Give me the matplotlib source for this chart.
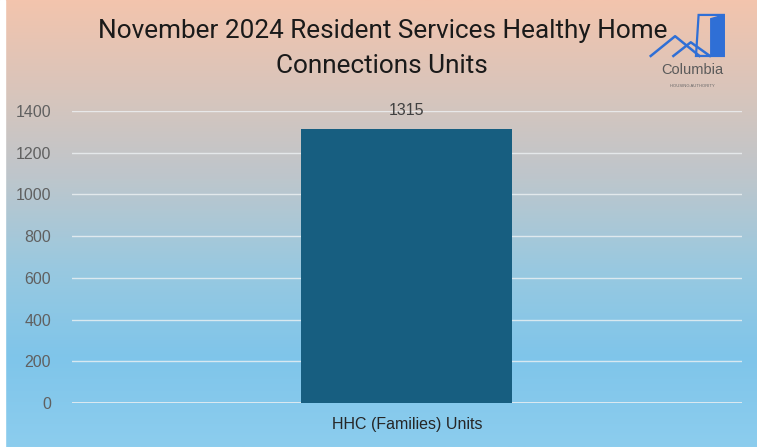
import numpy as np
import matplotlib.pyplot as plt
from matplotlib.colors import LinearSegmentedColormap
from matplotlib.patches import Polygon, Rectangle

categories = ["HHC (Families) Units"]
values = [1315]
yticks = [0, 200, 400, 600, 800, 1000, 1200, 1400]
title = "November 2024 Resident Services Healthy Home\nConnections Units"

plt.rcParams['font.family'] = ['Liberation Sans', 'DejaVu Sans']

fig = plt.figure(figsize=(7.57, 4.47), dpi=100)

# background gradient (top peach -> bottom sky blue)
bg = fig.add_axes([0, 0, 1, 1], zorder=0)
grad = LinearSegmentedColormap.from_list(
    "bg", ["#f3c4ad", "#d9c5bb", "#bdc6cc", "#99c9e0", "#7fc5ea", "#8ccdee"])
bg.imshow(np.linspace(0, 1, 256).reshape(-1, 1), aspect="auto", cmap=grad,
          extent=[0, 1, 0, 1])
bg.add_patch(Rectangle((0, 0), 0.007, 1, color="white"))
bg.set_xlim(0, 1)
bg.set_ylim(0, 1)
bg.axis("off")

ax = fig.add_axes([0.095, 0.098, 0.885, 0.654], zorder=1)
ax.patch.set_alpha(0)
x = np.arange(len(categories))
bars = ax.bar(x, values, width=0.315, color="#175e80", zorder=2)
for b, v in zip(bars, values):
    ax.text(b.get_x() + b.get_width() / 2, v + 50, str(v), ha="center",
            va="bottom", fontsize=11.5, color="#404040", clip_on=False)
ax.set_xlim(-0.5, 0.5)
ax.set_ylim(0, 1400)
ax.set_yticks(yticks)
ax.set_xticks(x)
ax.set_xticklabels(categories, fontsize=11.5, color="#262626")
ax.tick_params(axis="y", labelsize=11.5, labelcolor="#606060", length=0, pad=15)
ax.tick_params(axis="x", length=0, pad=10)
ax.grid(axis="y", color="#eef2f4", linewidth=1, alpha=0.8, zorder=0)
for s in ax.spines.values():
    s.set_visible(False)
ax.axhline(0, color="#e8eef2", linewidth=1.2, zorder=1)

fig.text(0.505, 0.892, title, ha="center", va="center", fontsize=18.8,
         family=['Roboto', 'DejaVu Sans'], color="#1a1a1a", linespacing=1.55)

# small logo drawn with patches
lg = fig.add_axes([0.855, 0.80, 0.115, 0.17], zorder=3)
lg.set_xlim(0, 10)
lg.set_ylim(0, 10)
lg.axis("off")
blue = "#2f6fd6"
lg.add_patch(Polygon([[5.6, 4.4], [5.9, 9.8], [8.8, 9.8], [8.8, 4.4]],
                     closed=True, fc="none", ec=blue, lw=1.6))
lg.add_patch(Polygon([[7.3, 4.4], [7.3, 9.3], [8.8, 9.8], [8.8, 4.4]],
                     closed=True, fc=blue, ec=blue))
lg.plot([0.4, 3.2, 6.0], [4.4, 7.0, 4.4], color=blue, lw=1.8)
lg.plot([3.0, 5.0, 7.2], [4.4, 6.2, 4.4], color=blue, lw=1.8)
lg.text(5.2, 2.5, "Columbia", ha="center", va="center", fontsize=10.5,
        color="#5a5a5a")
lg.text(5.2, 0.5, "HOUSING AUTHORITY", ha="center", va="center",
        fontsize=3, color="#666666")

fig.savefig("out.png", dpi=100)
